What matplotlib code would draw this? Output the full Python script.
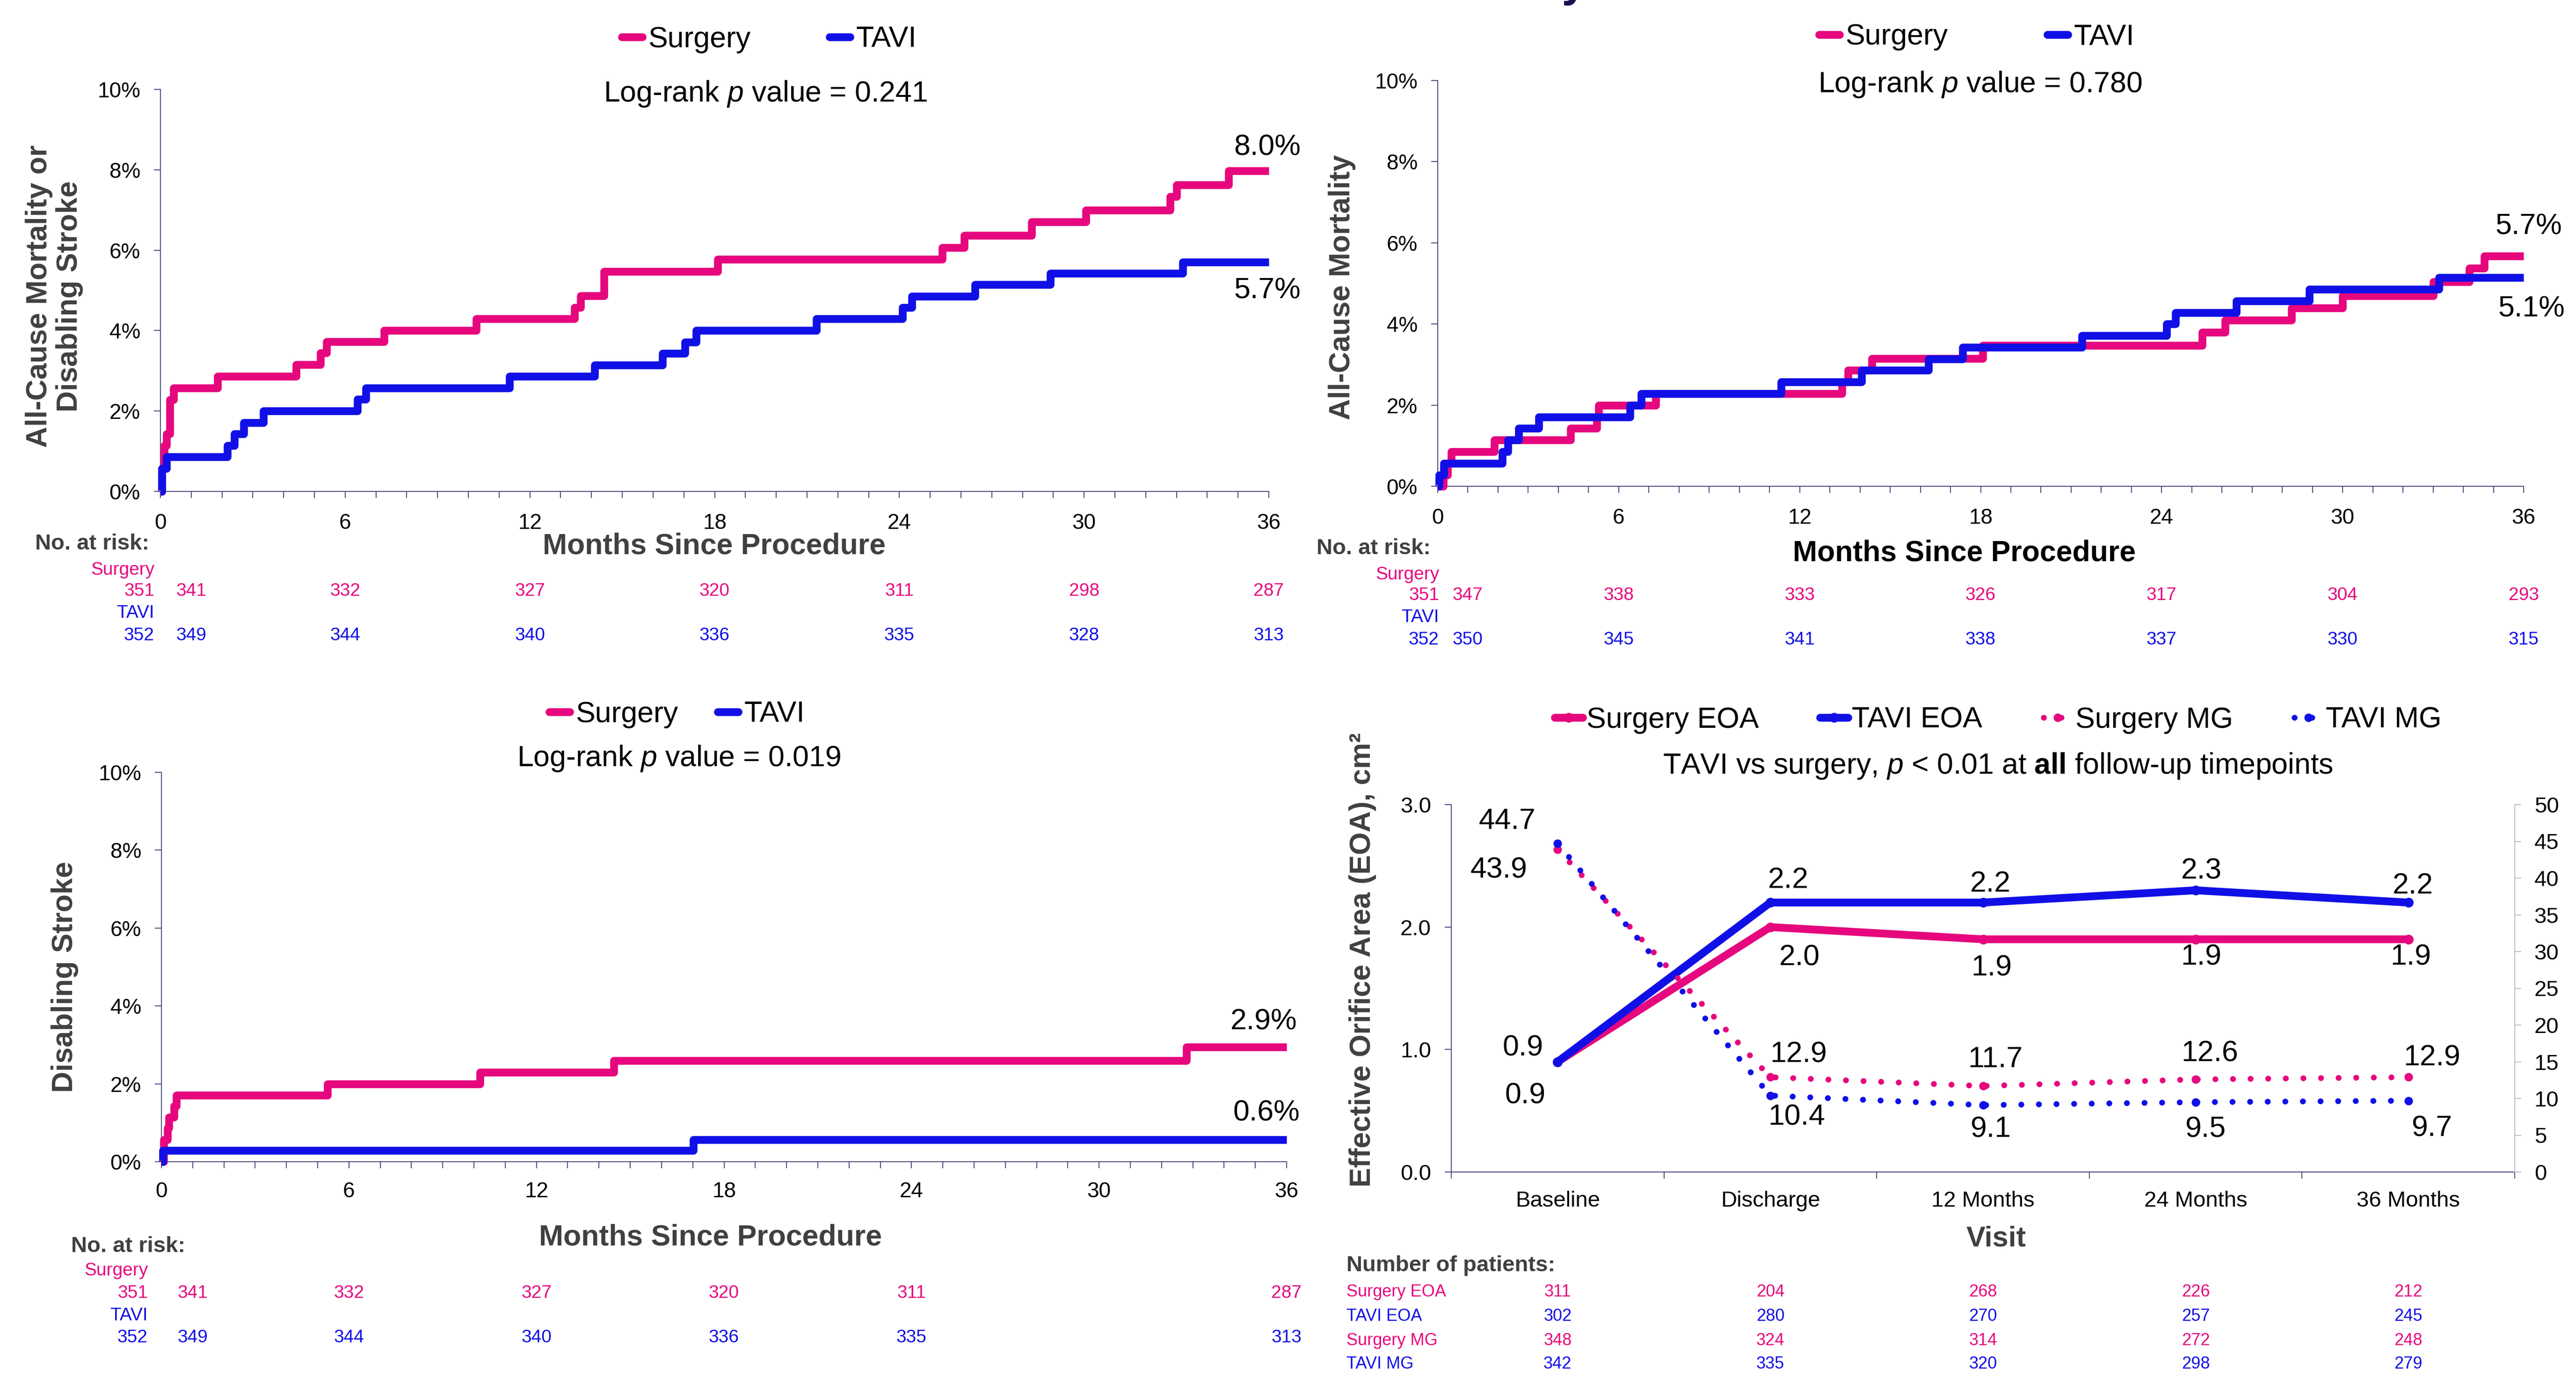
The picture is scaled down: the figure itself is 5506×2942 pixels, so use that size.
import matplotlib
matplotlib.use("Agg")
import matplotlib.pyplot as plt
import matplotlib.transforms as mtransforms
from matplotlib.lines import Line2D
from matplotlib.ticker import MultipleLocator, FixedLocator
import numpy as np

plt.rcParams['font.family'] = 'Liberation Sans'
plt.rcParams['mathtext.fontset'] = 'custom'
plt.rcParams['mathtext.rm'] = 'Liberation Sans'
plt.rcParams['mathtext.it'] = 'Liberation Sans:italic'
plt.rcParams['mathtext.bf'] = 'Liberation Sans:bold'

W, H = 5506, 2942
PINK = '#e6077e'
BLUE = '#1010e6'
NAVY = '#2b2b6b'
GRAY = '#404040'

# ---------------- data ----------------
groups = ["Surgery", "TAVI"]

# panel A: all-cause mortality or disabling stroke (cumulative %, step changes)
a_surg_t = [0, 0.05, 0.12, 0.2, 0.3, 0.43, 1.85, 4.4, 5.2, 5.4, 7.27, 10.25, 13.45, 13.65,
            14.4, 18.1, 25.4, 26.1, 28.3, 30.06, 32.8, 33.0, 34.7, 36]
a_surg_v = [0, 0.57, 1.14, 1.43, 2.28, 2.57, 2.86, 3.15, 3.45, 3.72, 4.0, 4.3, 4.58, 4.87,
            5.47, 5.77, 6.07, 6.37, 6.7, 7.0, 7.33, 7.63, 7.97, 7.97]
a_tavi_t = [0, 0.05, 0.2, 2.17, 2.4, 2.7, 3.34, 6.4, 6.67, 11.34, 14.1, 16.3, 17.04, 17.4,
            21.3, 24.1, 24.4, 26.45, 28.9, 33.2, 36]
a_tavi_v = [0, 0.57, 0.86, 1.14, 1.43, 1.71, 2.0, 2.29, 2.57, 2.86, 3.14, 3.43, 3.71, 4.0,
            4.29, 4.57, 4.86, 5.14, 5.43, 5.71, 5.71]
a_pvalue = "0.241"
a_end_labels = ["8.0%", "5.7%"]
a_risk_months = [0, 1, 6, 12, 18, 24, 30, 36]
a_risk_surg = [351, 341, 332, 327, 320, 311, 298, 287]
a_risk_tavi = [352, 349, 344, 340, 336, 335, 328, 313]

# panel B: all-cause mortality
b_surg_t = [0, 0.19, 0.32, 0.45, 1.87, 4.4, 5.27, 5.33, 7.23, 13.4, 13.6, 14.4, 18.07,
            25.35, 26.1, 28.3, 30.0, 33.0, 34.2, 34.7, 36]
b_surg_v = [0, 0.28, 0.57, 0.85, 1.14, 1.43, 1.71, 2.0, 2.28, 2.57, 2.86, 3.15, 3.47,
            3.8, 4.1, 4.4, 4.7, 5.04, 5.37, 5.67, 5.67]
b_tavi_t = [0, 0.05, 0.2, 2.14, 2.33, 2.68, 3.35, 6.37, 6.75, 11.38, 14.05, 16.27, 17.4,
            21.36, 24.17, 24.46, 26.47, 28.9, 33.2, 36]
b_tavi_v = [0, 0.28, 0.57, 0.85, 1.14, 1.43, 1.71, 2.0, 2.28, 2.57, 2.86, 3.14, 3.43,
            3.71, 4.0, 4.28, 4.57, 4.86, 5.14, 5.14]
b_pvalue = "0.780"
b_end_labels = ["5.7%", "5.1%"]
b_risk_months = [0, 1, 6, 12, 18, 24, 30, 36]
b_risk_surg = [351, 347, 338, 333, 326, 317, 304, 293]
b_risk_tavi = [352, 350, 345, 341, 338, 337, 330, 315]

# panel C: disabling stroke
c_surg_t = [0, 0.08, 0.19, 0.24, 0.4, 0.48, 5.32, 10.2, 14.48, 32.8, 36]
c_surg_v = [0, 0.57, 0.86, 1.14, 1.43, 1.71, 2.0, 2.3, 2.6, 2.94, 2.94]
c_tavi_t = [0, 0.05, 17.02, 36]
c_tavi_v = [0, 0.29, 0.57, 0.57]
c_pvalue = "0.019"
c_end_labels = ["2.9%", "0.6%"]
c_risk_months = [0, 1, 6, 12, 18, 24, 36]
c_risk_surg = [351, 341, 332, 327, 320, 311, 287]
c_risk_tavi = [352, 349, 344, 340, 336, 335, 313]

# panel D: haemodynamics
visits = ["Baseline", "Discharge", "12 Months", "24 Months", "36 Months"]
series_names = ["Surgery EOA", "TAVI EOA", "Surgery MG", "TAVI MG"]
surg_eoa = [0.9, 2.0, 1.9, 1.9, 1.9]
tavi_eoa = [0.9, 2.2, 2.2, 2.3, 2.2]
surg_mg = [43.9, 12.9, 11.7, 12.6, 12.9]
tavi_mg = [44.7, 10.4, 9.1, 9.5, 9.7]
n_surg_eoa = [311, 204, 268, 226, 212]
n_tavi_eoa = [302, 280, 270, 257, 245]
n_surg_mg = [348, 324, 314, 272, 248]
n_tavi_mg = [342, 335, 320, 298, 279]


fig = plt.figure(figsize=(W / 100, H / 100), dpi=100)

KM_LW = 12


def rect(l, t, r, b):
    return [l / W, 1 - b / H, (r - l) / W, (b - t) / H]


def fp(x, y):
    return x / W, 1 - y / H


def km_panel(box, st, sv, tt, tv, pval, ends, end_offs, months, rs, rt,
             leg_xy, colsp, p_xy, xlab_xy, xlab_color, norisk_xy, label_right, rows_y, xpad):
    ax = fig.add_axes(rect(*box))
    ax.step(st, sv, where='post', color=PINK, lw=KM_LW, solid_joinstyle='round',
            solid_capstyle='butt', clip_on=False, zorder=3)
    ax.step(tt, tv, where='post', color=BLUE, lw=KM_LW, solid_joinstyle='round',
            solid_capstyle='butt', clip_on=False, zorder=3)
    ax.set_xlim(0, 36)
    ax.set_ylim(0, 10)
    for s in ['top', 'right']:
        ax.spines[s].set_visible(False)
    for s in ['left', 'bottom']:
        ax.spines[s].set_color(NAVY)
        ax.spines[s].set_linewidth(1.2)
    ax.xaxis.set_major_locator(MultipleLocator(6))
    ax.xaxis.set_minor_locator(MultipleLocator(1))
    ax.yaxis.set_major_locator(MultipleLocator(2))
    ax.yaxis.set_major_formatter(lambda v, p: f'{v:.0f}%')
    ax.tick_params(which='both', direction='out', length=10, width=1.2, color=NAVY, labelsize=33)
    ax.tick_params(axis='x', pad=xpad)
    ax.tick_params(axis='y', pad=21)

    # end-of-curve labels
    for val, lab, off in zip([sv[-1], tv[-1]], ends, end_offs):
        ax.annotate(lab, (36, val), xytext=off, textcoords='offset pixels',
                    ha='center', va='center', fontsize=45, annotation_clip=False)

    handles = [Line2D([], [], color=PINK, lw=KM_LW, solid_capstyle='round'),
               Line2D([], [], color=BLUE, lw=KM_LW, solid_capstyle='round')]
    fig.legend(handles, groups, loc='center', bbox_to_anchor=fp(*leg_xy),
               bbox_transform=fig.transFigure, ncol=2, frameon=False, fontsize=45,
               handlelength=0.7, handletextpad=0.2, columnspacing=colsp,
               borderpad=0, borderaxespad=0)
    fig.text(*fp(*p_xy), f"Log-rank $\\mathit{{p}}$ value = {pval}", fontsize=45,
             ha='center', va='center')
    fig.text(*fp(*xlab_xy), "Months Since Procedure", fontsize=45, fontweight='bold',
             color=xlab_color, ha='center', va='center')
    fig.text(*fp(*norisk_xy), "No. at risk:", fontsize=34, fontweight='bold', color=GRAY,
             ha='left', va='center')

    tr = mtransforms.blended_transform_factory(ax.transData, fig.transFigure)
    fig.text(label_right / W, 1 - rows_y[0] / H, groups[0], color=PINK, fontsize=28,
             ha='right', va='center')
    fig.text(label_right / W, 1 - rows_y[2] / H, groups[1], color=BLUE, fontsize=28,
             ha='right', va='center')
    for row_y, vals, col in [(rows_y[1], rs, PINK), (rows_y[3], rt, BLUE)]:
        for m, n in zip(months, vals):
            if m == 0:
                fig.text(label_right / W, 1 - row_y / H, str(n), color=col, fontsize=28,
                         ha='right', va='center')
            else:
                ax.text(m, 1 - row_y / H, str(n), color=col, fontsize=28, transform=tr,
                        ha='center', va='center')
    return ax


# Panel A
km_panel((343, 191, 2712, 1050), a_surg_t, a_surg_v, a_tavi_t, a_tavi_v, a_pvalue,
         a_end_labels, [(-3, 50), (-3, -61)], a_risk_months, a_risk_surg, a_risk_tavi,
         (1644, 84), 2.7, (1636, 200), (1527, 1167), GRAY, (75, 1162), 330,
         [1218, 1263, 1310, 1358], 23)
fig.text(*fp(116, 633), "All-Cause Mortality or\nDisabling Stroke", rotation=90,
         fontsize=45, fontweight='bold', color=GRAY, ha='center', va='center',
         multialignment='center', linespacing=1.15)

# Panel B
km_panel((3073, 172, 5394, 1039), b_surg_t, b_surg_v, b_tavi_t, b_tavi_v, b_pvalue,
         b_end_labels, [(11, 63), (17, -67)], b_risk_months, b_risk_surg, b_risk_tavi,
         (4225, 79), 3.4, (4232, 181), (4198, 1182), 'black', (2814, 1172), 3076,
         [1228, 1272, 1319, 1367], 23)
fig.text(*fp(2869, 614), "All-Cause Mortality", rotation=90, fontsize=45,
         fontweight='bold', color=GRAY, ha='center', va='center')

# Panel C
km_panel((345, 1650, 2750, 2482), c_surg_t, c_surg_v, c_tavi_t, c_tavi_v, c_pvalue,
         c_end_labels, [(-49, 54), (-43, 57)], c_risk_months, c_risk_surg, c_risk_tavi,
         (1447, 1526), 1.35, (1451, 1621), (1518, 2644), GRAY, (152, 2663), 316,
         [2715, 2763, 2811, 2858], 20)
fig.text(*fp(139, 2087), "Disabling Stroke", rotation=90, fontsize=45,
         fontweight='bold', color=GRAY, ha='center', va='center')

# Panel D
ax4 = fig.add_axes(rect(3102, 1719, 5375, 2504))
ax4r = ax4.twinx()
xpos = np.arange(len(visits)) + 0.5
dots = (0, (0.01, 3.0))
ax4r.plot(xpos, surg_mg, color=PINK, lw=9, ls=dots, dash_capstyle='round',
          marker='o', ms=12, zorder=2)
ax4r.plot(xpos, tavi_mg, color=BLUE, lw=9, ls=dots, dash_capstyle='round',
          marker='o', ms=12, zorder=2)
ax4.plot(xpos, surg_eoa, color=PINK, lw=12, marker='o', ms=14,
         solid_capstyle='round', zorder=4)
ax4.plot(xpos, tavi_eoa, color=BLUE, lw=12, marker='o', ms=14,
         solid_capstyle='round', zorder=4)
ax4.set_xlim(0, 5)
ax4.set_ylim(0, 3)
ax4r.set_ylim(0, 50)
ax4.set_yticks([0, 1, 2, 3])
ax4.yaxis.set_major_formatter(lambda v, p: f'{v:.1f}')
ax4r.yaxis.set_major_locator(MultipleLocator(5))
ax4.xaxis.set_major_locator(FixedLocator(np.arange(len(visits) + 1)))
ax4.xaxis.set_major_formatter(lambda v, p: '')
ax4.xaxis.set_minor_locator(FixedLocator(xpos))
ax4.set_xticklabels(visits, minor=True)
for a in (ax4, ax4r):
    a.spines['top'].set_visible(False)
ax4.spines['right'].set_visible(False)
ax4r.spines['left'].set_visible(False)
ax4r.spines['bottom'].set_visible(False)
ax4.spines['left'].set_color(NAVY)
ax4.spines['bottom'].set_color(NAVY)
ax4.spines['left'].set_linewidth(1.2)
ax4.spines['bottom'].set_linewidth(1.2)
ax4r.spines['right'].set_color('#c0c0c0')
ax4r.spines['right'].set_linewidth(1.5)
ax4.tick_params(which='major', direction='out', length=10, width=1.2, color=NAVY,
                labelsize=34)
ax4.tick_params(axis='y', pad=21)
ax4.tick_params(axis='x', which='minor', length=0, pad=29, labelsize=34)
ax4r.tick_params(direction='out', length=10, width=1.5, color='#c0c0c0', labelsize=34, pad=20)

eoa_offs_s = [(-69, -73), (63, -65), (18, -61), (12, -38), (5, -38)]
eoa_offs_t = [(-74, 30), (38, 48), (16, 40), (12, 41), (10, 36)]
mg_offs_s = [(-126, -44), (60, 48), (26, 57), (30, 55), (50, 41)]
mg_offs_t = [(-108, 48), (56, -46), (16, -52), (21, -58), (50, -59)]
for a, vals, offs in [(ax4, surg_eoa, eoa_offs_s), (ax4, tavi_eoa, eoa_offs_t),
                      (ax4r, surg_mg, mg_offs_s), (ax4r, tavi_mg, mg_offs_t)]:
    for xv, v, off in zip(xpos, vals, offs):
        a.annotate(f'{v:.1f}', (xv, v), xytext=off, textcoords='offset pixels',
                   ha='center', va='center', fontsize=45, annotation_clip=False)

h4 = [Line2D([], [], color=PINK, lw=12, marker='o', ms=14, solid_capstyle='round'),
      Line2D([], [], color=BLUE, lw=12, marker='o', ms=14, solid_capstyle='round'),
      Line2D([], [], color=PINK, lw=9, ls=dots, dash_capstyle='round', marker='o', ms=12),
      Line2D([], [], color=BLUE, lw=9, ls=dots, dash_capstyle='round', marker='o', ms=12)]
fig.legend(h4, series_names, loc='center', bbox_to_anchor=fp(4271, 1538),
           bbox_transform=fig.transFigure, ncol=4, frameon=False, fontsize=45,
           handlelength=0.95, handletextpad=0.13, columnspacing=2.1, numpoints=1,
           borderpad=0, borderaxespad=0)
fig.text(*fp(4270, 1636),
         "TAVI vs surgery, $\\mathit{p}$ < 0.01 at $\\mathbf{all}$ follow-up timepoints",
         fontsize=45, ha='center', va='center')
fig.text(*fp(2912, 2051), "Effective Orifice Area (EOA), cm²", rotation=90, fontsize=45,
         fontweight='bold', color=GRAY, ha='center', va='center')
fig.text(*fp(4267, 2647), "Visit", fontsize=44, fontweight='bold', color=GRAY,
         ha='center', va='center')
fig.text(*fp(2878, 2704), "Number of patients:", fontsize=34, fontweight='bold',
         color=GRAY, ha='left', va='center')
tr4 = mtransforms.blended_transform_factory(ax4.transData, fig.transFigure)
for name, counts, col, ry in zip(series_names, [n_surg_eoa, n_tavi_eoa, n_surg_mg, n_tavi_mg],
                                 [PINK, BLUE, PINK, BLUE], [2760, 2812, 2865, 2915]):
    fig.text(2878 / W, 1 - ry / H, name, color=col, fontsize=26, ha='left', va='center')
    for xv, n in zip(xpos, counts):
        ax4.text(xv, 1 - ry / H, str(n), color=col, fontsize=26, transform=tr4,
                 ha='center', va='center')

# cropped fragment of the slide title at the top edge
fig.text(3364 / W, 1 + 8 / H, "y", fontsize=70, fontweight='bold', color='#1a1050',
         ha='center', va='baseline')

fig.savefig('out.png', dpi=100)
